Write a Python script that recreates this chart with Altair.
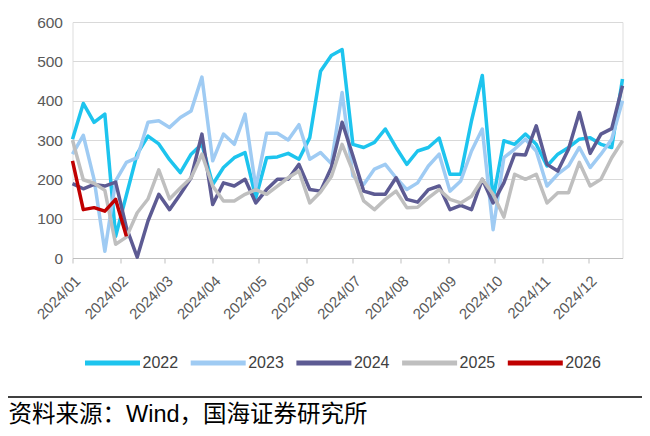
import altair as alt
import pandas as pd

years = ["2022", "2023", "2024", "2025", "2026"]
colors = ["#1DC4EE", "#9FCBF3", "#5D5B93", "#BFBFBF", "#C00000"]

v2022 = [302, 393, 345, 366, 55, 160, 265, 310, 290, 250, 217, 264, 290, 187, 230, 255, 268, 153,
         255, 257, 266, 251, 306, 475, 515, 530, 289, 281, 294, 328, 281, 238, 272, 281, 305, 213,
         213, 349, 464, 150, 298, 289, 315, 289, 234, 264, 281, 302, 306, 289, 281, 455]
v2023 = [264, 312, 200, 17, 196, 243, 255, 345, 349, 332, 357, 374, 460, 247, 315, 289, 366, 179,
         317, 317, 300, 339, 251, 268, 240, 421, 209, 187, 226, 238, 204, 174, 191, 234, 264, 170,
         196, 272, 328, 72, 255, 277, 302, 272, 183, 213, 234, 281, 230, 264, 302, 400]
v2024 = [189, 176, 187, 183, 193, 77, 2, 94, 162, 123, 162, 204, 315, 136, 191, 183, 200, 140,
         174, 200, 200, 238, 174, 170, 230, 345, 260, 170, 162, 162, 204, 149, 142, 174, 183, 123,
         134, 123, 200, 140, 191, 264, 262, 336, 238, 221, 277, 370, 266, 315, 329, 438]
v2025 = [300, 199, 190, 172, 35, 53, 115, 150, 224, 150, 178, 204, 264, 183, 145, 145, 162, 174,
         162, 183, 204, 221, 140, 168, 207, 289, 221, 145, 123, 149, 170, 128, 129, 153, 174, 149,
         140, 157, 200, 162, 104, 213, 200, 213, 140, 166, 166, 243, 183, 200, 255, 298]
v2026 = [247, 123, 128, 119, 149, 55]

series = {"2022": v2022, "2023": v2023, "2024": v2024, "2025": v2025, "2026": v2026}
week_dates = pd.date_range("2024-01-01", periods=52, freq="7D").strftime("%Y-%m-%d").tolist()

rows = []
for y in years:
    for d, v in zip(week_dates, series[y]):
        rows.append({"date": d, "value": v, "year": y})
df = pd.DataFrame(rows)

month_ticks = [alt.DateTime(year=2024, month=m, date=1, utc=True) for m in range(1, 13)]
x_domain = [alt.DateTime(year=2024, month=1, date=1, utc=True),
            alt.DateTime(year=2024, month=12, date=23, utc=True)]

lines = alt.Chart(df).mark_line(strokeWidth=3.5, strokeJoin="round").encode(
    x=alt.X("date:T",
            scale=alt.Scale(type="utc", domain=x_domain),
            axis=alt.Axis(values=month_ticks, labelExpr="utcFormat(datum.value, '%Y/%m')",
                          labelAngle=-45, labelAlign="right", labelBaseline="top",
                          labelPadding=10, tickSize=5, tickColor="#BFBFBF", domainColor="#BFBFBF",
                          domainWidth=1.2, grid=False, title=None, labelFontSize=15,
                          labelColor="#595959", labelFont="Liberation Sans", labelOverlap=False)),
    y=alt.Y("value:Q",
            scale=alt.Scale(domain=[0, 600], nice=False),
            axis=alt.Axis(values=[0, 100, 200, 300, 400, 500, 600], ticks=False, domain=False,
                          gridColor="#D9D9D9", gridWidth=1.2, labelPadding=10, title=None,
                          labelFontSize=15.5, labelColor="#595959", labelFont="Liberation Sans")),
    color=alt.Color("year:N", sort=years,
                    scale=alt.Scale(domain=years, range=colors),
                    legend=alt.Legend(orient="none", legendX=10, legendY=311, direction="horizontal",
                                      title=None, symbolType="stroke", symbolSize=3025,
                                      symbolStrokeWidth=5, labelFontSize=16, labelColor="#404040",
                                      labelFont="Liberation Sans", labelOffset=0, columnPadding=1.7)),
)

sep = alt.Chart(pd.DataFrame({"k": [0]})).mark_rule(color="#000000", strokeWidth=1.5).encode(
    x=alt.value(-66), x2=alt.value(572), y=alt.value(375)
)

source = alt.Chart(pd.DataFrame({"t": ["资料来源：Wind，国海证券研究所"]})).mark_text(
    align="left", baseline="alphabetic", fontSize=23.5, color="#000000",
    font="Liberation Sans, 'Noto Sans CJK SC'"
).encode(text="t:N", x=alt.value(-64), y=alt.value(400))

chart = alt.layer(lines, sep, source).properties(
    width=550, height=236,
    autosize=alt.AutoSizeParams(type="none"),
    padding={"left": 64.5, "top": 14, "right": 19.5, "bottom": 170},
).configure_view(stroke=None).configure(background="white")

chart.save("out.html", embed_options={"renderer": "svg", "actions": False})
